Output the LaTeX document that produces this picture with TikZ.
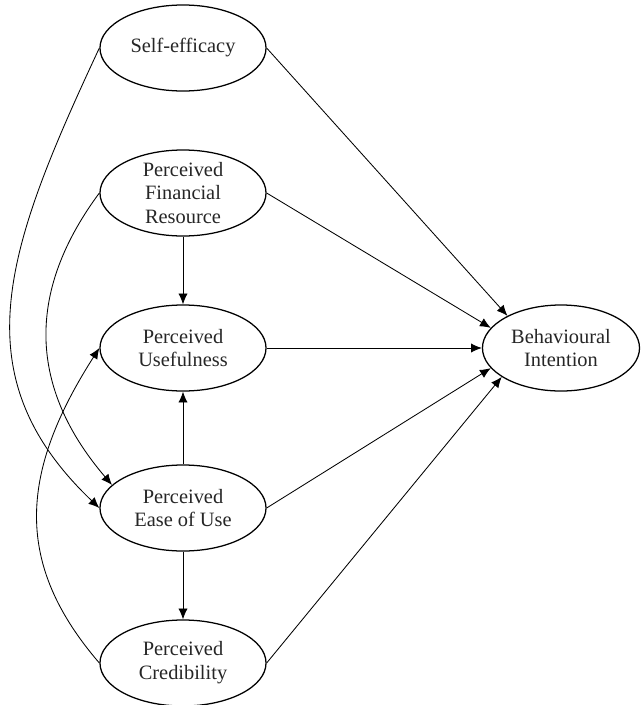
\documentclass[tikz,border=0pt]{standalone}
\usepackage{fontspec}
\setmainfont{Liberation Serif}
\usetikzlibrary{shapes.geometric,arrows.meta}

\begin{document}
\begin{tikzpicture}[x=0.025cm,y=-0.025cm,
  construct/.style={draw, ellipse, line width=0.9pt, minimum width=4.15cm, minimum height=2.15cm,
    inner xsep=0pt, inner ysep=-6pt, align=center, text=black!85,
    font=\fontsize{14.5}{17}\selectfont},
  path/.style={-{Latex[length=2.7mm,width=2.3mm]}, line width=0.6pt}]
\useasboundingbox (0,0) rectangle (641,705);
\node[construct] (se) at (183,48) {Self-efficacy} ;
\node[construct] (pfr) at (183,193) {Perceived\\Financial\\Resource} ;
\node[construct] (pu) at (183,348) {Perceived\\Usefulness} ;
\node[construct] (peou) at (183,508) {Perceived\\Ease of Use} ;
\node[construct] (pc) at (183,663) {Perceived\\Credibility} ;
\node[construct, minimum width=3.925cm] (bi) at (561,348) {Behavioural\\Intention} ;
\draw[path] (se.east) to (bi.149) ;
\draw[path] (pfr.east) to (bi.164) ;
\draw[path] (pu.east) to (bi.west) ;
\draw[path] (peou.east) to (bi.196) ;
\draw[path] (pc.east) to (bi.206) ;
\draw[path] (pfr.south) to (pu.north) ;
\draw[path] (peou.north) to (pu.south) ;
\draw[path] (peou.south) to (pc.north) ;
\draw[path] (se.west) .. controls (5,250) and (-40,375) .. (peou.west) ;
\draw[path] (pfr.west) .. controls (20,300) and (35,395) .. (peou.162) ;
\draw[path] (pc.west) .. controls (15,565) and (18,475) .. (pu.west) ;
\end{tikzpicture}
\end{document}
